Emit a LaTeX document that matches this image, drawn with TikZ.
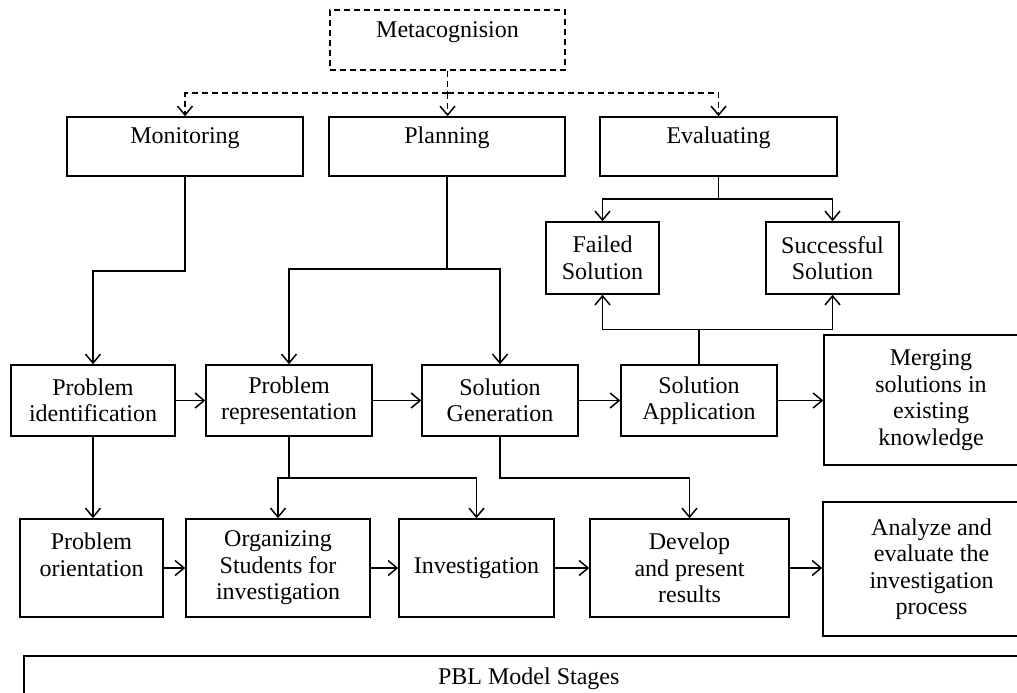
\documentclass[tikz,border=0pt]{standalone}
\usepackage{fontspec}
\setmainfont{Liberation Serif}
\usetikzlibrary{arrows.meta,calc}
\begin{document}
\begin{tikzpicture}[x=1pt,y=-1pt,
  every node/.style={font=\fontsize{24}{26.5}\selectfont, align=center},
  box/.style={draw, line width=1.5pt, inner sep=0pt},
  topish/.style={text height=16.5pt, text depth=22pt},
  conn/.style={line width=1.5pt},
  arr/.style={line width=1.5pt, -{Straight Barb[length=9pt,width=15pt,line width=1.5pt]}},
  dashline/.style={line width=1.5pt, dash pattern=on 6pt off 4pt},
  darr/.style={dashline, -{Straight Barb[length=9pt,width=15pt,line width=1.5pt]}}]
\useasboundingbox (0,0) rectangle (1017,693);
\fill[white] (0,0) rectangle (1017,693);

% top level
\node[box, dashline, topish, minimum width=235, minimum height=60] (meta) at (447.5,40) {Metacognision};
\node[box, topish, minimum width=236, minimum height=59] (mon) at (185,146.5) {Monitoring};
\node[box, topish, minimum width=236, minimum height=59] (plan) at (447,146.5) {Planning};
\node[box, topish, minimum width=237, minimum height=59] (eval) at (718.5,146.5) {Evaluating};

\node[box, minimum width=113, minimum height=72] (fail) at (602.5,258) {Failed\\Solution};
\node[box, minimum width=133, minimum height=72] (succ) at (832.5,258) {Successful\\Solution};

% row 1
\node[box, minimum width=164, minimum height=71] (pi) at (93,400.5) {Problem\\identification};
\node[box, minimum width=166, minimum height=71] (pr) at (289,400.5) {Problem\\representation};
\node[box, minimum width=156, minimum height=71] (sg) at (500,400.5) {Solution\\Generation};
\node[box, minimum width=156, minimum height=71] (sa) at (699,400.5) {Solution\\Application};
\node[box, minimum width=214, minimum height=130] (merge) at (931,400) {Merging\\solutions in\\existing\\knowledge};

% row 2
\node[box, minimum width=143, minimum height=98] (po) at (91.5,568) {Problem\\orientation\\\mbox{}};
\node[box, minimum width=184, minimum height=98] (org) at (278,568) {Organizing\\Students for\\investigation};
\node[box, minimum width=155, minimum height=98] (inv) at (476.5,568) {Investigation};
\node[box, minimum width=199, minimum height=98] (dev) at (689.5,568) {Develop\\and present\\results};
\node[box, minimum width=217, minimum height=134] (ana) at (931.5,569) {Analyze and\\evaluate the\\investigation\\process};

% bottom
\node[box, minimum width=1010, minimum height=46, anchor=north west] (pbl) at (23,655) {PBL Model Stages};

% metacognition connectors
\coordinate (mj) at (meta.south |- 0,93);
\draw[dashline] (meta.south) -- (mj);
\draw[darr] (mj) -| (mon.north);
\draw[darr] (mj) -- (plan.north -| mj);
\draw[darr] (mj) -| (eval.north);

% monitoring
\draw[arr] (mon.south) -- ++(0,94) -| (pi.north);
% planning
\coordinate (pj) at ($(plan.south)+(0,92)$);
\draw[conn] (plan.south) -- (pj);
\draw[arr] (pj) -| (pr.north);
\draw[arr] (pj) -| (sg.north);
% evaluating
\coordinate (ej) at ($(eval.south)+(0,22)$);
\draw[conn] (eval.south) -- (ej);
\draw[arr] (ej) -| (fail.north);
\draw[arr] (ej) -| (succ.north);
% solution application up
\coordinate (sj) at ($(sa.north)+(0,-35)$);
\draw[conn] (sa.north) -- (sj);
\draw[arr] (sj) -| (fail.south);
\draw[arr] (sj) -| (succ.south);

% row 1 arrows
\draw[arr] (pi.east) -- (pr.west);
\draw[arr] (pr.east) -- (sg.west);
\draw[arr] (sg.east) -- (sa.west);
\draw[arr] (sa.east) -- (merge.west |- sa.east);

% down connectors
\draw[arr] (pi.south) -- (pi.south |- po.north);
\coordinate (rj) at ($(pr.south)+(0,41)$);
\draw[conn] (pr.south) -- (rj);
\draw[arr] (rj) -| (org.north);
\draw[arr] (rj) -| (inv.north);
\draw[arr] (sg.south) -- ++(0,41) -| (dev.north);

% row 2 arrows
\draw[arr] (po.east) -- (org.west);
\draw[arr] (org.east) -- (inv.west);
\draw[arr] (inv.east) -- (dev.west);
\draw[arr] (dev.east) -- (ana.west |- dev.east);
\end{tikzpicture}
\end{document}
